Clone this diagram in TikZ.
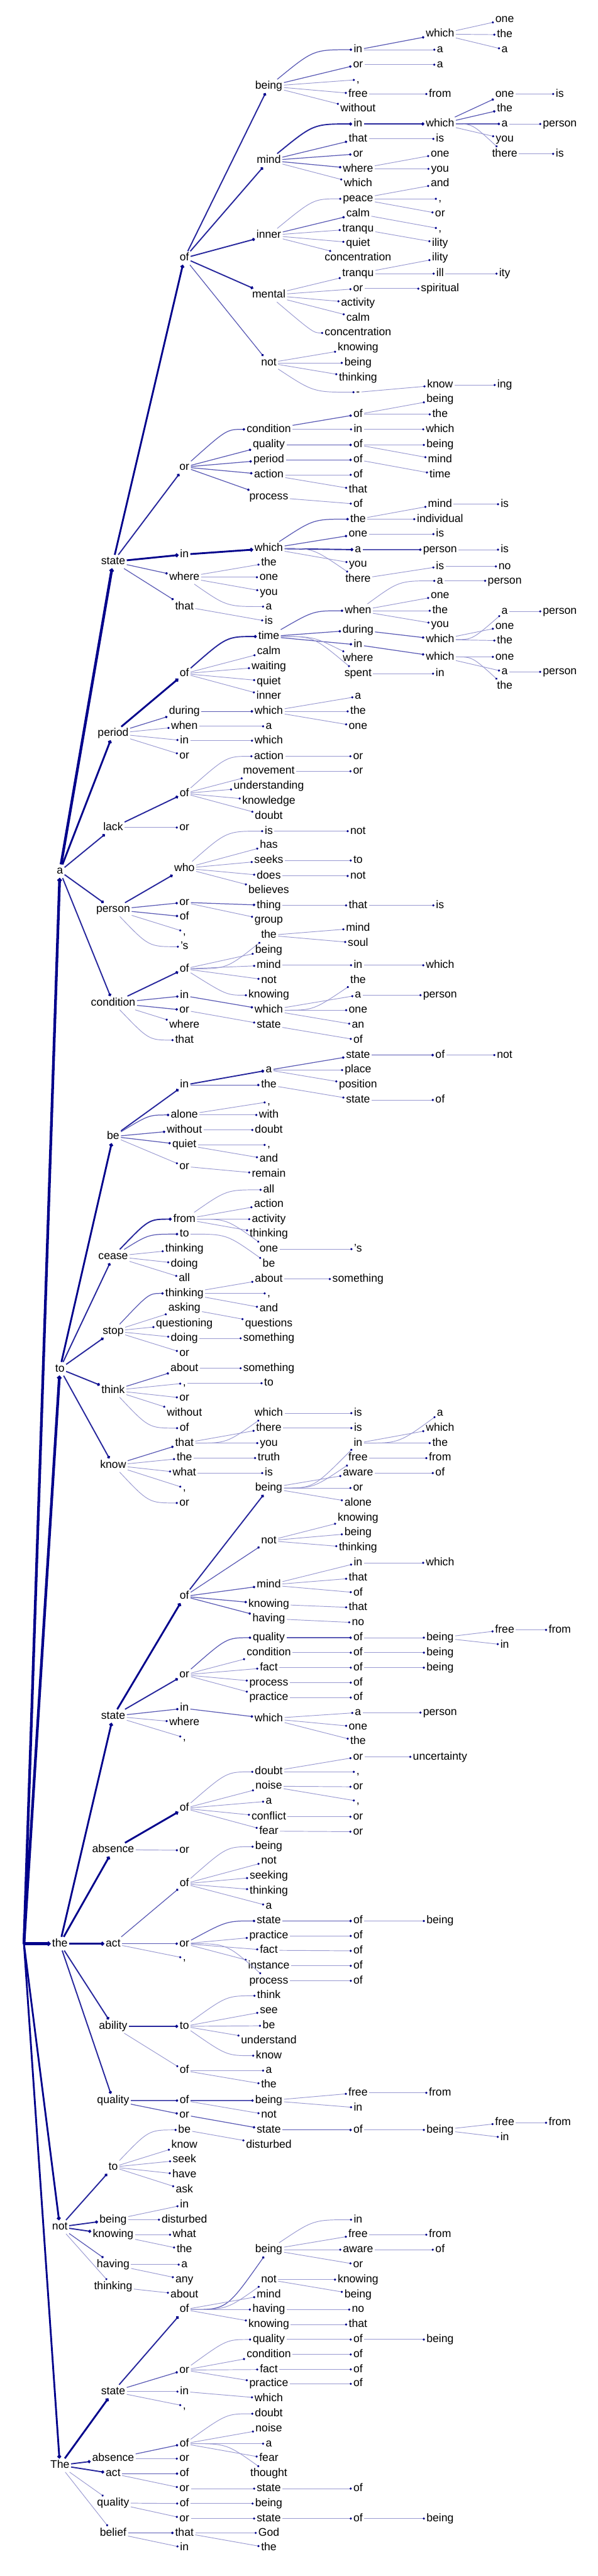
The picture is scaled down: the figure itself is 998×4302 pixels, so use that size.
\documentclass[tikz,border=0pt]{standalone}
\usepackage{fontspec}
\setmainfont{Liberation Sans}
\usetikzlibrary{arrows.meta,calc}
\definecolor{treeblue}{RGB}{0,0,139}
\newcommand\col[1]{\ifcase#1 40\or100\or189\or308\or449\or598\or735\or843\or935\fi}
\newcommand\lk[6][w1]{\node[wd] (#3) at (\col{#4},#5) {#6};\draw[#1] (#2) -- (#3);}
\newcommand\lkc[6][w1]{\node[wd] (#3) at (\col{#4},#5) {#6};\draw[#1] let \p1=(#2), \p2=(#3) in (#2) .. controls ({(\x1+\x2)/2},\y2) .. (#3);}
\newcommand\lks[6][w1]{\node[wd] (#3) at (\col{#4},#5) {#6};\draw[#1] let \p1=(#2), \p2=(#3) in (#2) .. controls ({(\x1+\x2)/2},\y1) .. (#3);}
\begin{document}
\begin{tikzpicture}[x=1pt,y=-1pt,
  wd/.style={font=\fontsize{18.5}{20}\selectfont,inner sep=2.5pt,text height=13.5pt,text depth=4pt},
  w1/.style={draw=treeblue!40,line width=1pt,-{Circle[length=3.5pt,color=treeblue]}},
  w2/.style={draw=treeblue!65,line width=1.3pt,-{Circle[length=4pt,color=treeblue]}},
  w3/.style={draw=treeblue!85,line width=2pt,-{Circle[length=5pt,color=treeblue]}},
  w4/.style={draw=treeblue,line width=3pt,-{Circle[length=6pt,color=treeblue]}},
  w5/.style={draw=treeblue,line width=4.5pt,-{Circle[length=7pt,color=treeblue]}}]
\useasboundingbox (0,0) rectangle (998,4302);
\coordinate (r) at (40,3246);
\lk[w5]{r}{na}{1}{1455}{a}
\lk[w5]{r}{nto}{1}{2286}{to}
\lk[w5]{r}{nthe}{1}{3246}{the}
\lk[w4]{r}{nnot}{1}{3719}{not}
\lk[w4]{r}{nThe}{1}{4117}{The}
\lk[w5]{na}{a1}{2}{938}{state}
\lk[w4]{a1}{a2}{3}{431}{of}
\lk[w3]{a2}{a3}{4}{144}{being}
\lkc[w2]{a3}{a4}{5}{83}{in}
\lk[w2]{a4}{a5}{6}{57}{which}
\lk{a5}{a6}{7}{33}{one}
\lk{a5}{a7}{7}{58}{the}
\lk{a5}{a8}{7}{83}{a}
\lk{a4}{a9}{6}{83}{a}
\lk[w2]{a3}{a10}{5}{108}{or}
\lk{a10}{a11}{6}{108}{a}
\lk{a3}{a12}{5}{133}{,}
\lk{a3}{a13}{5}{157}{free}
\lk{a13}{a14}{6}{157}{from}
\lk{a3}{a15}{5}{182}{without}
\lk[w3]{a2}{a16}{4}{268}{mind}
\lkc[w3]{a16}{a17}{5}{207}{in}
\lk[w3]{a17}{a18}{6}{207}{which}
\lk[w2]{a18}{a19}{7}{157}{one}
\lk{a19}{a20}{8}{157}{is}
\lk[w2]{a18}{a21}{7}{182}{the}
\lk[w2]{a18}{a22}{7}{207}{a}
\lk{a22}{a23}{8}{207}{person}
\lk{a18}{a24}{7}{232}{you}
\lks{a18}{a25}{7}{257}{there}
\lk{a25}{a26}{8}{257}{is}
\lk[w2]{a16}{a27}{5}{232}{that}
\lk{a27}{a28}{6}{232}{is}
\lk[w2]{a16}{a29}{5}{257}{or}
\lk[w2]{a16}{a30}{5}{282}{where}
\lk{a30}{a31}{6}{257}{one}
\lk{a30}{a32}{6}{282}{you}
\lk{a16}{a33}{5}{307}{which}
\lk[w3]{a2}{a34}{4}{393}{inner}
\lkc{a34}{a35}{5}{332}{peace}
\lk{a35}{a36}{6}{307}{and}
\lk{a35}{a37}{6}{332}{,}
\lk{a35}{a38}{6}{357}{or}
\lk[w2]{a34}{a39}{5}{357}{calm}
\lk{a39}{a40}{6}{382}{,}
\lk{a34}{a41}{5}{382}{tranqu}
\lk{a41}{a42}{6}{406}{ility}
\lk{a34}{a43}{5}{406}{quiet}
\lk{a34}{a44}{5}{431}{concentration}
\lk[w3]{a2}{a45}{4}{493}{mental}
\lk{a45}{a46}{5}{457}{tranqu}
\lk{a46}{a47}{6}{431}{ility}
\lk{a46}{a48}{6}{457}{ill}
\lk{a48}{a49}{7}{457}{ity}
\lk{a45}{a50}{5}{482}{or}
\lk{a50}{a51}{6}{482}{spiritual}
\lk{a45}{a52}{5}{506}{activity}
\lk{a45}{a53}{5}{531}{calm}
\lkc{a45}{a54}{5}{556}{concentration}
\lk[w2]{a2}{a55}{4}{606}{not}
\lk{a55}{a56}{5}{581}{knowing}
\lk{a55}{a57}{5}{606}{being}
\lk{a55}{a58}{5}{631}{thinking}
\lkc{a55}{a59}{5}{655}{-}
\lk{a59}{a60}{6}{643}{know}
\lk{a60}{a61}{7}{643}{ing}
\lk[w3]{a1}{a62}{3}{780}{or}
\lkc[w2]{a62}{a63}{4}{717}{condition}
\lk[w2]{a63}{a64}{5}{692}{of}
\lk{a64}{a65}{6}{667}{being}
\lk{a64}{a66}{6}{692}{the}
\lk{a63}{a67}{5}{717}{in}
\lk{a67}{a68}{6}{717}{which}
\lk[w2]{a62}{a69}{4}{743}{quality}
\lk[w2]{a69}{a70}{5}{743}{of}
\lk{a70}{a71}{6}{743}{being}
\lk{a70}{a72}{6}{768}{mind}
\lk[w2]{a62}{a73}{4}{768}{period}
\lk[w2]{a73}{a74}{5}{768}{of}
\lk{a74}{a75}{6}{793}{time}
\lk[w2]{a62}{a76}{4}{793}{action}
\lk{a76}{a77}{5}{793}{of}
\lk{a76}{a78}{5}{818}{that}
\lk[w2]{a62}{a79}{4}{830}{process}
\lk{a79}{a80}{5}{842}{of}
\lk[w4]{a1}{a81}{3}{926}{in}
\lk[w4]{a81}{a82}{4}{916}{which}
\lkc[w2]{a82}{a83}{5}{867}{the}
\lk{a83}{a84}{6}{842}{mind}
\lk{a84}{a85}{7}{842}{is}
\lk{a83}{a86}{6}{867}{individual}
\lk[w2]{a82}{a87}{5}{892}{one}
\lk{a87}{a88}{6}{892}{is}
\lk[w3]{a82}{a89}{5}{918}{a}
\lk[w2]{a89}{a90}{6}{918}{person}
\lk{a90}{a91}{7}{918}{is}
\lk{a82}{a92}{5}{942}{you}
\lks{a82}{a93}{5}{967}{there}
\lk{a93}{a94}{6}{946}{is}
\lk{a94}{a95}{7}{946}{no}
\lk[w2]{a1}{a96}{3}{964}{where}
\lk{a96}{a97}{4}{940}{the}
\lk{a96}{a98}{4}{964}{one}
\lk{a96}{a99}{4}{989}{you}
\lkc{a96}{a100}{4}{1013}{a}
\lk[w2]{a1}{a101}{3}{1013}{that}
\lk{a101}{a102}{4}{1038}{is}
\lk[w4]{na}{a103}{2}{1225}{period}
\lk[w4]{a103}{a104}{3}{1125}{of}
\lkc[w3]{a104}{a105}{4}{1063}{time}
\lkc[w2]{a105}{a106}{5}{1020}{when}
\lkc{a106}{a107}{6}{970}{a}
\lk{a107}{a108}{7}{970}{person}
\lk{a106}{a109}{6}{995}{one}
\lk{a106}{a110}{6}{1020}{the}
\lk{a106}{a111}{6}{1043}{you}
\lk[w2]{a105}{a112}{5}{1052}{during}
\lk[w2]{a112}{a113}{6}{1068}{which}
\lks{a113}{a114}{7}{1021}{a}
\lk{a114}{a115}{8}{1021}{person}
\lk{a113}{a116}{7}{1046}{one}
\lk{a113}{a117}{7}{1070}{the}
\lk[w2]{a105}{a118}{5}{1077}{in}
\lk[w2]{a118}{a119}{6}{1097}{which}
\lk{a119}{a120}{7}{1097}{one}
\lk{a119}{a121}{7}{1122}{a}
\lk{a121}{a122}{8}{1122}{person}
\lks{a119}{a123}{7}{1146}{the}
\lks{a105}{a124}{5}{1100}{where}
\lks{a105}{a125}{5}{1125}{spent}
\lk{a125}{a126}{6}{1125}{in}
\lk{a104}{a127}{4}{1088}{calm}
\lk{a104}{a128}{4}{1113}{waiting}
\lk{a104}{a129}{4}{1138}{quiet}
\lk{a104}{a130}{4}{1163}{inner}
\lk[w2]{a103}{a131}{3}{1188}{during}
\lk[w2]{a131}{a132}{4}{1188}{which}
\lk{a132}{a133}{5}{1163}{a}
\lk{a132}{a134}{5}{1188}{the}
\lk{a132}{a135}{5}{1213}{one}
\lk{a103}{a136}{3}{1213}{when}
\lk{a136}{a137}{4}{1213}{a}
\lk{a103}{a138}{3}{1237}{in}
\lk{a138}{a139}{4}{1237}{which}
\lk{a103}{a140}{3}{1262}{or}
\lk[w3]{na}{a141}{2}{1382}{lack}
\lk[w3]{a141}{a142}{3}{1325}{of}
\lkc{a142}{a143}{4}{1263}{action}
\lk{a143}{a144}{5}{1263}{or}
\lk{a142}{a145}{4}{1288}{movement}
\lk{a145}{a146}{5}{1288}{or}
\lk{a142}{a147}{4}{1313}{understanding}
\lk{a142}{a148}{4}{1338}{knowledge}
\lk{a142}{a149}{4}{1363}{doubt}
\lk{a141}{a150}{3}{1382}{or}
\lk[w3]{na}{a151}{2}{1519}{person}
\lk[w3]{a151}{a152}{3}{1450}{who}
\lkc{a152}{a153}{4}{1388}{is}
\lk{a153}{a154}{5}{1388}{not}
\lk{a152}{a155}{4}{1412}{has}
\lk{a152}{a156}{4}{1437}{seeks}
\lk{a156}{a157}{5}{1437}{to}
\lk{a152}{a158}{4}{1463}{does}
\lk{a158}{a159}{5}{1463}{not}
\lk{a152}{a160}{4}{1487}{believes}
\lk[w2]{a151}{a161}{3}{1507}{or}
\lk[w2]{a161}{a162}{4}{1512}{thing}
\lk{a162}{a163}{5}{1512}{that}
\lk{a163}{a164}{6}{1512}{is}
\lk{a161}{a165}{4}{1537}{group}
\lk[w2]{a151}{a166}{3}{1531}{of}
\lk{a151}{a167}{3}{1556}{,}
\lkc{a151}{a168}{3}{1581}{'s}
\lk[w3]{na}{a169}{2}{1675}{condition}
\lk[w3]{a169}{a170}{3}{1618}{of}
\lks{a170}{a171}{4}{1562}{the}
\lk{a171}{a172}{5}{1550}{mind}
\lk{a171}{a173}{5}{1575}{soul}
\lk{a170}{a174}{4}{1587}{being}
\lk{a170}{a175}{4}{1612}{mind}
\lk{a175}{a176}{5}{1612}{in}
\lk{a176}{a177}{6}{1612}{which}
\lk{a170}{a178}{4}{1637}{not}
\lkc{a170}{a179}{4}{1662}{knowing}
\lk[w2]{a169}{a180}{3}{1663}{in}
\lk[w2]{a180}{a181}{4}{1687}{which}
\lks{a181}{a182}{5}{1637}{the}
\lk{a181}{a183}{5}{1662}{a}
\lk{a183}{a184}{6}{1662}{person}
\lk{a181}{a185}{5}{1687}{one}
\lk{a181}{a186}{5}{1712}{an}
\lk[w2]{a169}{a187}{3}{1687}{or}
\lk{a187}{a188}{4}{1712}{state}
\lk{a188}{a189}{5}{1737}{of}
\lk{a169}{a190}{3}{1712}{where}
\lkc{a169}{a191}{3}{1737}{that}
\lk[w4]{nto}{t1}{2}{1898}{be}
\lk[w3]{t1}{t2}{3}{1812}{in}
\lk[w3]{t2}{t3}{4}{1787}{a}
\lk[w2]{t3}{t4}{5}{1762}{state}
\lk[w2]{t4}{t5}{6}{1762}{of}
\lk{t5}{t6}{7}{1762}{not}
\lk{t3}{t7}{5}{1787}{place}
\lk{t3}{t8}{5}{1812}{position}
\lk[w2]{t2}{t9}{4}{1812}{the}
\lk{t9}{t10}{5}{1837}{state}
\lk{t10}{t11}{6}{1837}{of}
\lkc[w2]{t1}{t12}{3}{1862}{alone}
\lk{t12}{t13}{4}{1840}{,}
\lk{t12}{t14}{4}{1862}{with}
\lk[w2]{t1}{t15}{3}{1887}{without}
\lk{t15}{t16}{4}{1887}{doubt}
\lk[w2]{t1}{t17}{3}{1912}{quiet}
\lk{t17}{t18}{4}{1912}{,}
\lk{t17}{t19}{4}{1936}{and}
\lk{t1}{t20}{3}{1948}{or}
\lk{t20}{t21}{4}{1961}{remain}
\lk[w3]{nto}{t22}{2}{2098}{cease}
\lkc[w3]{t22}{t23}{3}{2036}{from}
\lkc{t23}{t24}{4}{1987}{all}
\lk{t23}{t25}{4}{2011}{action}
\lk{t23}{t26}{4}{2036}{activity}
\lk{t23}{t27}{4}{2061}{thinking}
\lks{t23}{t28}{4}{2086}{one}
\lk{t28}{t29}{5}{2086}{'s}
\lkc[w2]{t22}{t30}{3}{2061}{to}
\lks{t30}{t31}{4}{2111}{be}
\lk{t22}{t32}{3}{2086}{thinking}
\lk{t22}{t33}{3}{2111}{doing}
\lk{t22}{t34}{3}{2135}{all}
\lk[w3]{nto}{t35}{2}{2223}{stop}
\lkc[w2]{t35}{t36}{3}{2160}{thinking}
\lk{t36}{t37}{4}{2136}{about}
\lk{t37}{t38}{5}{2136}{something}
\lk{t36}{t39}{4}{2160}{,}
\lk{t36}{t40}{4}{2186}{and}
\lk{t35}{t41}{3}{2185}{asking}
\lk{t41}{t42}{4}{2211}{questions}
\lk{t35}{t43}{3}{2211}{questioning}
\lk{t35}{t44}{3}{2235}{doing}
\lk{t44}{t45}{4}{2235}{something}
\lk{t35}{t46}{3}{2260}{or}
\lk[w3]{nto}{t47}{2}{2322}{think}
\lk[w2]{t47}{t48}{3}{2285}{about}
\lk{t48}{t49}{4}{2285}{something}
\lk{t47}{t50}{3}{2310}{,}
\lk{t50}{t51}{4}{2310}{to}
\lk{t47}{t52}{3}{2335}{or}
\lk{t47}{t53}{3}{2360}{without}
\lkc{t47}{t54}{3}{2385}{of}
\lk[w3]{nto}{t55}{2}{2447}{know}
\lk[w2]{t55}{t56}{3}{2410}{that}
\lks{t56}{t57}{4}{2360}{which}
\lk{t57}{t58}{5}{2360}{is}
\lk{t56}{t59}{4}{2385}{there}
\lk{t59}{t60}{5}{2385}{is}
\lk{t56}{t61}{4}{2410}{you}
\lk{t55}{t62}{3}{2435}{the}
\lk{t62}{t63}{4}{2435}{truth}
\lk{t55}{t64}{3}{2460}{what}
\lk{t64}{t65}{4}{2460}{is}
\lk{t55}{t66}{3}{2485}{,}
\lkc{t55}{t67}{3}{2510}{or}
\lk[w4]{nthe}{h1}{2}{2866}{state}
\lk[w4]{h1}{h2}{3}{2666}{of}
\lk[w3]{h2}{h3}{4}{2485}{being}
\lks{h3}{h4}{5}{2410}{in}
\lks{h4}{h5}{6}{2360}{a}
\lk{h4}{h6}{6}{2385}{which}
\lk{h4}{h7}{6}{2410}{the}
\lks{h3}{h8}{5}{2435}{free}
\lk{h8}{h9}{6}{2435}{from}
\lk{h3}{h10}{5}{2460}{aware}
\lk{h10}{h11}{6}{2460}{of}
\lk{h3}{h12}{5}{2485}{or}
\lk{h3}{h13}{5}{2510}{alone}
\lk[w2]{h2}{h14}{4}{2573}{not}
\lk{h14}{h15}{5}{2535}{knowing}
\lk{h14}{h16}{5}{2560}{being}
\lk{h14}{h17}{5}{2585}{thinking}
\lk[w2]{h2}{h18}{4}{2647}{mind}
\lk{h18}{h19}{5}{2610}{in}
\lk{h19}{h20}{6}{2610}{which}
\lk{h18}{h21}{5}{2635}{that}
\lk{h18}{h22}{5}{2660}{of}
\lk[w2]{h2}{h23}{4}{2679}{knowing}
\lk{h23}{h24}{5}{2685}{that}
\lk[w2]{h2}{h25}{4}{2703}{having}
\lk{h25}{h26}{5}{2710}{no}
\lk[w3]{h1}{h27}{3}{2797}{or}
\lkc[w2]{h27}{h28}{4}{2735}{quality}
\lk[w2]{h28}{h29}{5}{2735}{of}
\lk{h29}{h30}{6}{2735}{being}
\lk{h30}{h31}{7}{2722}{free}
\lk{h31}{h32}{8}{2722}{from}
\lk{h30}{h33}{7}{2747}{in}
\lk{h27}{h34}{4}{2760}{condition}
\lk{h34}{h35}{5}{2760}{of}
\lk{h35}{h36}{6}{2760}{being}
\lk{h27}{h37}{4}{2785}{fact}
\lk{h37}{h38}{5}{2785}{of}
\lk{h38}{h39}{6}{2785}{being}
\lk{h27}{h40}{4}{2810}{process}
\lk{h40}{h41}{5}{2810}{of}
\lk{h27}{h42}{4}{2835}{practice}
\lk{h42}{h43}{5}{2835}{of}
\lk[w2]{h1}{h44}{3}{2853}{in}
\lk[w2]{h44}{h45}{4}{2870}{which}
\lk{h45}{h46}{5}{2860}{a}
\lk{h46}{h47}{6}{2860}{person}
\lk{h45}{h48}{5}{2884}{one}
\lk{h45}{h49}{5}{2908}{the}
\lk{h1}{h50}{3}{2877}{where}
\lk{h1}{h51}{3}{2902}{,}
\lk[w4]{nthe}{h52}{2}{3089}{absence}
\lk[w4]{h52}{h53}{3}{3020}{of}
\lkc{h53}{h54}{4}{2959}{doubt}
\lk{h54}{h55}{5}{2934}{or}
\lk{h55}{h56}{6}{2934}{uncertainty}
\lk{h54}{h57}{5}{2959}{,}
\lk{h53}{h58}{4}{2983}{noise}
\lk{h58}{h59}{5}{2984}{or}
\lk{h58}{h60}{5}{3008}{,}
\lk{h53}{h61}{4}{3008}{a}
\lk{h53}{h62}{4}{3034}{conflict}
\lk{h62}{h63}{5}{3034}{or}
\lk{h53}{h64}{4}{3058}{fear}
\lk{h64}{h65}{5}{3059}{or}
\lk{h52}{h66}{3}{3090}{or}
\lk[w4]{nthe}{h67}{2}{3246}{act}
\lk[w2]{h67}{h68}{3}{3146}{of}
\lkc{h68}{h69}{4}{3084}{being}
\lk{h68}{h70}{4}{3108}{not}
\lk{h68}{h71}{4}{3133}{seeking}
\lk{h68}{h72}{4}{3158}{thinking}
\lk{h68}{h73}{4}{3183}{a}
\lk[w2]{h67}{h74}{3}{3246}{or}
\lkc[w2]{h74}{h75}{4}{3208}{state}
\lk[w2]{h75}{h76}{5}{3208}{of}
\lk{h76}{h77}{6}{3208}{being}
\lk{h74}{h78}{4}{3233}{practice}
\lk{h78}{h79}{5}{3233}{of}
\lk{h74}{h80}{4}{3257}{fact}
\lk{h80}{h81}{5}{3258}{of}
\lk{h74}{h82}{4}{3283}{instance}
\lk{h82}{h83}{5}{3283}{of}
\lks{h74}{h84}{4}{3308}{process}
\lk{h84}{h85}{5}{3308}{of}
\lk{h67}{h86}{3}{3270}{,}
\lk[w3]{nthe}{h87}{2}{3384}{ability}
\lk[w3]{h87}{h88}{3}{3384}{to}
\lkc{h88}{h89}{4}{3333}{think}
\lk{h88}{h90}{4}{3358}{see}
\lk{h88}{h91}{4}{3383}{be}
\lk{h88}{h92}{4}{3408}{understand}
\lkc{h88}{h93}{4}{3433}{know}
\lk{h87}{h94}{3}{3458}{of}
\lk{h94}{h95}{4}{3458}{a}
\lk{h94}{h96}{4}{3482}{the}
\lk[w3]{nthe}{h97}{2}{3508}{quality}
\lk[w2]{h97}{h98}{3}{3508}{of}
\lk[w2]{h98}{h99}{4}{3508}{being}
\lk{h99}{h100}{5}{3495}{free}
\lk{h100}{h101}{6}{3495}{from}
\lk{h99}{h102}{5}{3520}{in}
\lk{h98}{h103}{4}{3532}{not}
\lk[w2]{h97}{h104}{3}{3532}{or}
\lk[w2]{h104}{h105}{4}{3557}{state}
\lk[w2]{h105}{h106}{5}{3557}{of}
\lk{h106}{h107}{6}{3557}{being}
\lk{h107}{h108}{7}{3545}{free}
\lk{h108}{h109}{8}{3545}{from}
\lk{h107}{h110}{7}{3570}{in}
\lk[w3]{nnot}{n1}{2}{3619}{to}
\lkc{n1}{n2}{3}{3557}{be}
\lk{n2}{n3}{4}{3582}{disturbed}
\lk{n1}{n4}{3}{3582}{know}
\lk{n1}{n5}{3}{3607}{seek}
\lk{n1}{n6}{3}{3632}{have}
\lk{n1}{n7}{3}{3657}{ask}
\lk[w3]{nnot}{n8}{2}{3707}{being}
\lk{n8}{n9}{3}{3682}{in}
\lk{n8}{n10}{3}{3707}{disturbed}
\lk[w3]{nnot}{n11}{2}{3732}{knowing}
\lk{n11}{n12}{3}{3732}{what}
\lk{n11}{n13}{3}{3757}{the}
\lk[w2]{nnot}{n14}{2}{3782}{having}
\lk{n14}{n15}{3}{3782}{a}
\lk{n14}{n16}{3}{3807}{any}
\lk{nnot}{n17}{2}{3819}{thinking}
\lk{n17}{n18}{3}{3832}{about}
\lk[w4]{nThe}{T1}{2}{3994}{state}
\lk[w3]{T1}{T2}{3}{3857}{of}
\lks[w2]{T2}{T3}{4}{3757}{being}
\lkc{T3}{T4}{5}{3707}{in}
\lk{T3}{T5}{5}{3732}{free}
\lk{T5}{T6}{6}{3732}{from}
\lk{T3}{T7}{5}{3757}{aware}
\lk{T7}{T8}{6}{3757}{of}
\lk{T3}{T9}{5}{3782}{or}
\lks{T2}{T10}{4}{3807}{not}
\lk{T10}{T11}{5}{3807}{knowing}
\lk{T10}{T12}{5}{3832}{being}
\lk{T2}{T13}{4}{3832}{mind}
\lk{T2}{T14}{4}{3857}{having}
\lk{T14}{T15}{5}{3857}{no}
\lk{T2}{T16}{4}{3882}{knowing}
\lk{T16}{T17}{5}{3882}{that}
\lk[w2]{T1}{T18}{3}{3958}{or}
\lkc{T18}{T19}{4}{3907}{quality}
\lk{T19}{T20}{5}{3907}{of}
\lk{T20}{T21}{6}{3907}{being}
\lk{T18}{T22}{4}{3932}{condition}
\lk{T22}{T23}{5}{3932}{of}
\lk{T18}{T24}{4}{3957}{fact}
\lk{T24}{T25}{5}{3957}{of}
\lk{T18}{T26}{4}{3981}{practice}
\lk{T26}{T27}{5}{3981}{of}
\lk{T1}{T28}{3}{3994}{in}
\lk{T28}{T29}{4}{4006}{which}
\lk{T1}{T30}{3}{4018}{,}
\lk[w3]{nThe}{T31}{2}{4106}{absence}
\lk[w2]{T31}{T32}{3}{4081}{of}
\lkc{T32}{T33}{4}{4031}{doubt}
\lk{T32}{T34}{4}{4056}{noise}
\lk{T32}{T35}{4}{4081}{a}
\lk{T32}{T36}{4}{4106}{fear}
\lks{T32}{T37}{4}{4131}{thought}
\lk{T31}{T38}{3}{4106}{or}
\lk[w3]{nThe}{T39}{2}{4131}{act}
\lk[w2]{T39}{T40}{3}{4131}{of}
\lk{T39}{T41}{3}{4156}{or}
\lk{T41}{T42}{4}{4156}{state}
\lk{T42}{T43}{5}{4156}{of}
\lk{nThe}{T44}{2}{4180}{quality}
\lk{T44}{T45}{3}{4181}{of}
\lk{T45}{T46}{4}{4181}{being}
\lk{T44}{T47}{3}{4206}{or}
\lk{T47}{T48}{4}{4206}{state}
\lk{T48}{T49}{5}{4206}{of}
\lk{T49}{T50}{6}{4206}{being}
\lk{nThe}{T51}{2}{4230}{belief}
\lk[w2]{T51}{T52}{3}{4230}{that}
\lk{T52}{T53}{4}{4230}{God}
\lk{T52}{T54}{4}{4255}{the}
\lk{T51}{T55}{3}{4255}{in}
\end{tikzpicture}
\end{document}
